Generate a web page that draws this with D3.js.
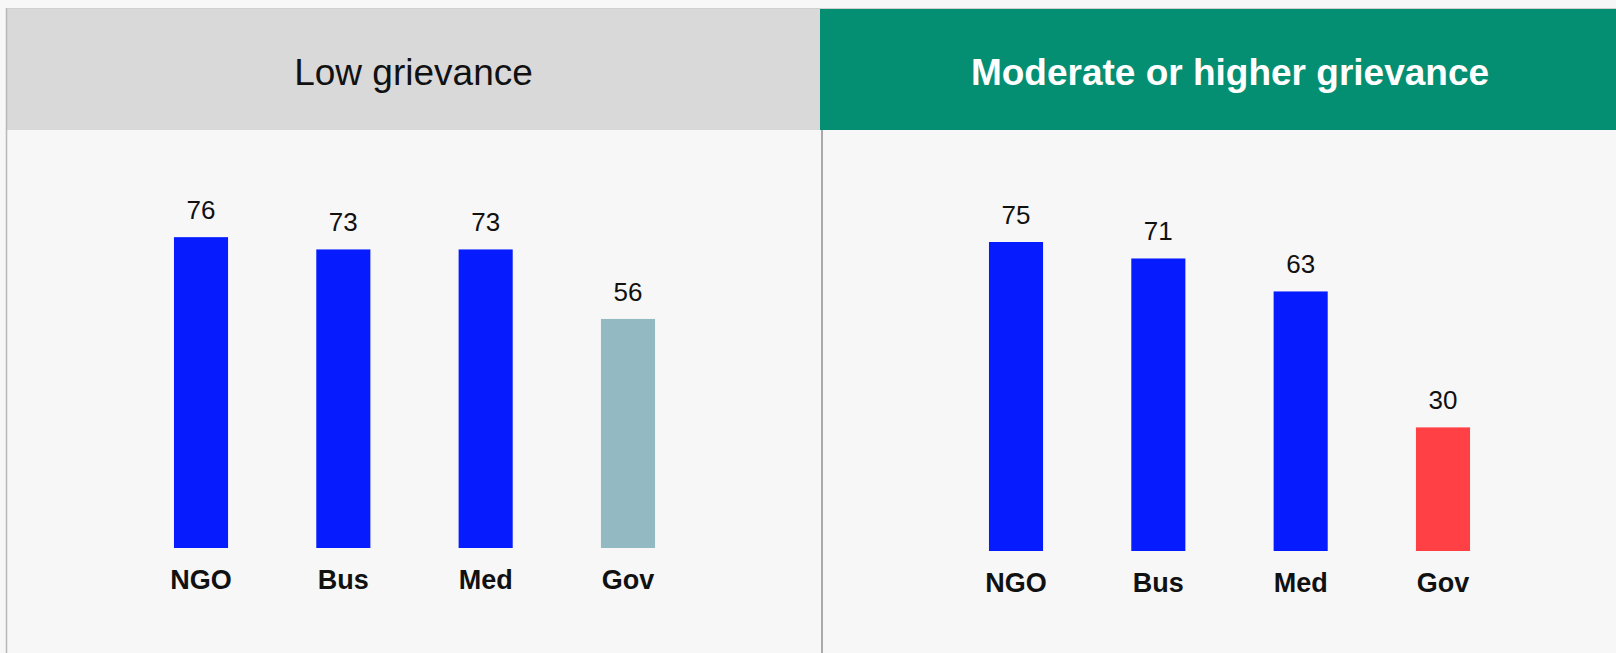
<!DOCTYPE html>
<html lang="en">
<head>
  <meta charset="UTF-8">
  <title>Trust by grievance</title>
  <script src="https://d3js.org/d3.v7.min.js"></script>
  <style>
    body { margin: 0; background: #f7f7f7; }
    text { font-family: "Liberation Sans", Arial, sans-serif; }
  </style>
</head>
<body>
<script>
    var width = 1616;
    var height = 653;

    // data
    var categories = ["NGO", "Bus", "Med", "Gov"];
    var lowValues = [76, 73, 73, 56];
    var highValues = [75, 71, 63, 30];
    var panelTitles = ["Low grievance", "Moderate or higher grievance"];
    var lowColors = ["#061cff", "#061cff", "#061cff", "#93bac2"];
    var highColors = ["#061cff", "#061cff", "#061cff", "#ff4044"];

    var headerTop = 9;
    var headerBottom = 130;
    var splitX = 820;

    var svg = d3.select("body").append("svg")
        .attr("width", width)
        .attr("height", height)
        .style("display", "block");

    svg.append("rect").attr("width", width).attr("height", height).attr("fill", "#f7f7f7");

    // headers
    svg.append("rect")
        .attr("x", 7).attr("y", headerTop)
        .attr("width", splitX - 7).attr("height", headerBottom - headerTop)
        .attr("fill", "#d9d9d9");
    svg.append("rect")
        .attr("x", splitX).attr("y", headerTop)
        .attr("width", width - splitX).attr("height", headerBottom - headerTop)
        .attr("fill", "#058f72");

    // border lines
    svg.append("line")
        .attr("x1", 6).attr("x2", width).attr("y1", 8.5).attr("y2", 8.5)
        .attr("stroke", "#cfcfcf").attr("stroke-width", 1);
    svg.append("line")
        .attr("x1", 6.5).attr("x2", 6.5).attr("y1", 8).attr("y2", height)
        .attr("stroke", "#b8b8b8").attr("stroke-width", 1.5);
    svg.append("line")
        .attr("x1", splitX + 2).attr("x2", splitX + 2).attr("y1", headerBottom).attr("y2", height)
        .attr("stroke", "#aaaaaa").attr("stroke-width", 2);

    svg.append("text")
        .attr("x", (7 + splitX) / 2).attr("y", 85)
        .attr("text-anchor", "middle")
        .attr("font-size", 37)
        .attr("fill", "#111")
        .text(panelTitles[0]);
    svg.append("text")
        .attr("x", 1230).attr("y", 85)
        .attr("text-anchor", "middle")
        .attr("font-size", 37)
        .attr("font-weight", "bold")
        .attr("fill", "#fff")
        .text(panelTitles[1]);

    function drawPanel(values, colors, x0, x1, baseY) {
        var x = d3.scaleBand()
            .domain(categories)
            .range([x0, x1])
            .paddingInner(0.62)
            .paddingOuter(0.5);
        var y = d3.scaleLinear()
            .domain([0, 100])
            .range([baseY, 139]);

        var g = svg.append("g");
        g.selectAll("rect.bar")
            .data(values)
            .enter()
            .append("rect")
            .attr("class", "bar")
            .attr("x", function(d, i) { return x(categories[i]); })
            .attr("y", function(d) { return y(d); })
            .attr("width", x.bandwidth())
            .attr("height", function(d) { return baseY - y(d); })
            .attr("fill", function(d, i) { return colors[i]; });

        g.selectAll("text.val")
            .data(values)
            .enter()
            .append("text")
            .attr("class", "val")
            .attr("x", function(d, i) { return x(categories[i]) + x.bandwidth() / 2; })
            .attr("y", function(d) { return y(d) - 18; })
            .attr("text-anchor", "middle")
            .attr("font-size", 26)
            .attr("fill", "#111")
            .text(function(d) { return d; });

        g.selectAll("text.cat")
            .data(categories)
            .enter()
            .append("text")
            .attr("class", "cat")
            .attr("x", function(d) { return x(d) + x.bandwidth() / 2; })
            .attr("y", baseY + 41)
            .attr("text-anchor", "middle")
            .attr("font-size", 27)
            .attr("font-weight", "bold")
            .attr("fill", "#111")
            .text(function(d) { return d; });
    }

    drawPanel(lowValues, lowColors, 102.8, 726.2, 548);
    drawPanel(highValues, highColors, 917.8, 1541.2, 551);
</script>
</body>
</html>
